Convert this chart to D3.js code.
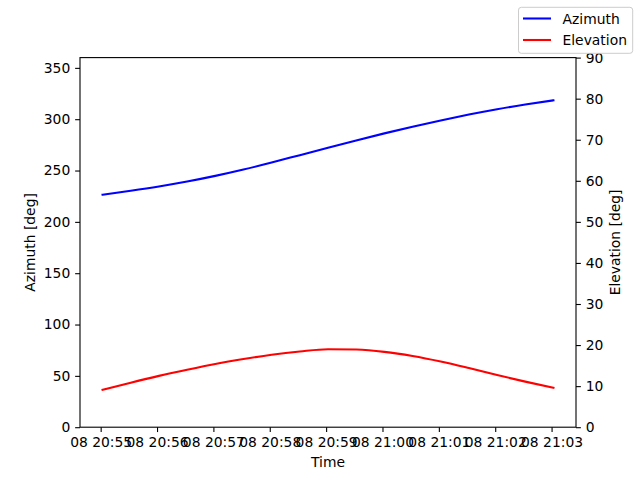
<!DOCTYPE html>
<html>
<head>
<meta charset="utf-8">
<script src="https://cdn.jsdelivr.net/npm/d3@7"></script>
<style>
  html, body { margin: 0; padding: 0; background: #fff; }
  svg { display: block; font-family: "DejaVu Sans", sans-serif; }
</style>
</head>
<body>
<svg id="chart" width="640" height="480"></svg>
<script>
// ---- data ----
const startTime = "2023-01-08T20:55:02Z";
const stepSeconds = 30;
const azimuth = [226.5, 230.3, 234.5, 239.3, 244.8, 251.0, 257.8, 265.0, 272.2,
                 279.3, 286.2, 292.7, 298.8, 304.5, 309.7, 314.3, 318.4];
const elevation = [9.1, 10.85, 12.5, 14.0, 15.4, 16.6, 17.65, 18.45, 19.0,
                   18.9, 18.35, 17.35, 16.0, 14.4, 12.7, 11.1, 9.6];
const xTickTimes = ["2023-01-08T20:55:00Z", "2023-01-08T20:56:00Z", "2023-01-08T20:57:00Z",
                    "2023-01-08T20:58:00Z", "2023-01-08T20:59:00Z", "2023-01-08T21:00:00Z",
                    "2023-01-08T21:01:00Z", "2023-01-08T21:02:00Z", "2023-01-08T21:03:00Z"];
const leftTicks = [0, 50, 100, 150, 200, 250, 300, 350];
const rightTicks = [0, 10, 20, 30, 40, 50, 60, 70, 80, 90];
const seriesNames = ["Azimuth", "Elevation"];

// ---- layout ----
const W = 640, H = 480;
const L = 80, R = 576, T = 57.6, B = 427.2;
const fs = 13.89;
const tickLen = 4.86, tickPad = 4.86;

const t0 = new Date(startTime).getTime();
const times = azimuth.map((_, i) => new Date(t0 + i * stepSeconds * 1000));
const tMin = d3.min(times).getTime(), tMax = d3.max(times).getTime();
const pad = (tMax - tMin) * 0.05;

const x = d3.scaleUtc().domain([new Date(tMin - pad), new Date(tMax + pad)]).range([L, R]);
const yL = d3.scaleLinear().domain([0, 360]).range([B, T]);
const yR = d3.scaleLinear().domain([0, 90]).range([B, T]);

const svg = d3.select("#chart");
svg.append("rect").attr("width", W).attr("height", H).attr("fill", "#fff");

const fmt = d3.utcFormat("%d %H:%M");

// lines
const lineAz = d3.line().x((d, i) => x(times[i])).y(d => yL(d)).curve(d3.curveMonotoneX);
const lineEl = d3.line().x((d, i) => x(times[i])).y(d => yR(d)).curve(d3.curveMonotoneX);
svg.append("path").datum(azimuth).attr("d", lineAz)
  .attr("fill", "none").attr("stroke", "#0000ff").attr("stroke-width", 2.08)
  .attr("stroke-linecap", "square").attr("stroke-linejoin", "round");
svg.append("path").datum(elevation).attr("d", lineEl)
  .attr("fill", "none").attr("stroke", "#ff0000").attr("stroke-width", 2.08)
  .attr("stroke-linecap", "square").attr("stroke-linejoin", "round");

// axes
const tickVals = xTickTimes.map(s => new Date(s));
const xAxis = d3.axisBottom(x).tickValues(tickVals).tickFormat(fmt)
  .tickSize(tickLen).tickPadding(tickPad).tickSizeOuter(0);
const gx = svg.append("g").attr("transform", `translate(0,${B})`).call(xAxis);

const gl = svg.append("g").attr("transform", `translate(${L},0)`)
  .call(d3.axisLeft(yL).tickValues(leftTicks).tickSize(tickLen).tickPadding(tickPad).tickSizeOuter(0));
const gr = svg.append("g").attr("transform", `translate(${R},0)`)
  .call(d3.axisRight(yR).tickValues(rightTicks).tickSize(tickLen).tickPadding(tickPad).tickSizeOuter(0));

[gx, gl, gr].forEach(g => {
  g.select(".domain").remove();
  g.selectAll(".tick line").attr("stroke", "#000").attr("stroke-width", 1.1);
  g.selectAll(".tick text").attr("font-size", fs).attr("fill", "#000")
    .attr("font-family", "DejaVu Sans");
});

// frame
svg.append("rect").attr("x", L).attr("y", T).attr("width", R - L).attr("height", B - T)
  .attr("fill", "none").attr("stroke", "#000").attr("stroke-width", 1.1);

// axis labels
svg.append("text").attr("x", (L + R) / 2).attr("y", 467).attr("text-anchor", "middle")
  .attr("font-size", fs).text("Time");
svg.append("text").attr("transform", `translate(35,${(T + B) / 2}) rotate(-90)`)
  .attr("text-anchor", "middle").attr("font-size", fs).text("Azimuth [deg]");
svg.append("text").attr("transform", `translate(620,${(T + B) / 2}) rotate(-90)`)
  .attr("text-anchor", "middle").attr("font-size", fs).text("Elevation [deg]");

// legend
const lg = svg.append("g");
lg.append("rect").attr("x", 518.5).attr("y", 7.3).attr("width", 114.2).attr("height", 46)
  .attr("rx", 2.8).attr("fill", "#fff").attr("fill-opacity", 0.8)
  .attr("stroke", "#cccccc").attr("stroke-width", 1);
const colors = ["#0000ff", "#ff0000"];
const legendY = [18.5, 40];
seriesNames.forEach((name, i) => {
  lg.append("line").attr("x1", 523).attr("x2", 551).attr("y1", legendY[i]).attr("y2", legendY[i])
    .attr("stroke", colors[i]).attr("stroke-width", 2.08);
  lg.append("text").attr("x", 562.5).attr("y", legendY[i] + 5).attr("font-size", fs).text(name);
});
</script>
</body>
</html>
